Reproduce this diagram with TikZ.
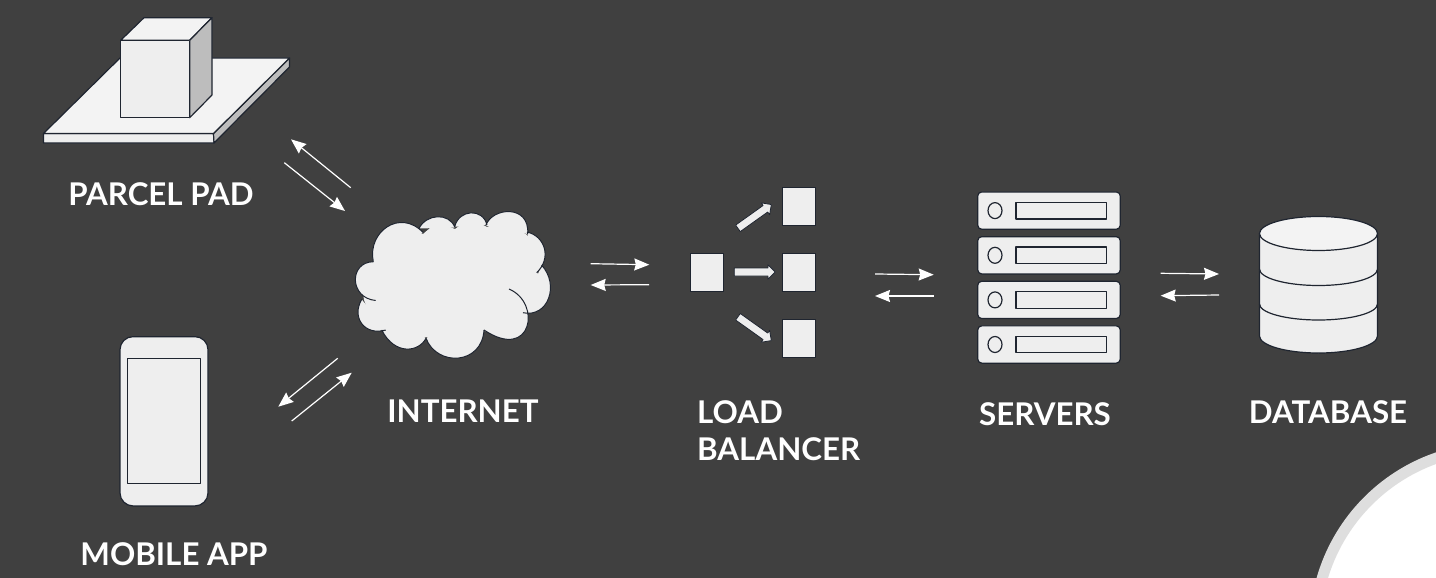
\documentclass[tikz,border=0pt]{standalone}
\usepackage{fontspec}
\setmainfont{Lato}
\usetikzlibrary{arrows.meta,shapes.arrows,shapes.geometric}
\definecolor{bgdark}{HTML}{404040}
\definecolor{edgedark}{HTML}{1F2530}
\definecolor{iconfill}{HTML}{EEEEEE}
\definecolor{iconlight}{HTML}{F3F3F3}
\definecolor{iconside}{HTML}{BDBDBD}
\tikzset{
  icon/.style={draw=edgedark,fill=iconfill,line width=1.2pt,line join=round},
  iconsq/.style={icon,inner sep=0pt,minimum width=33pt,minimum height=38pt},
  flowarrow/.style={draw=white,line width=1.2pt,-{Stealth[length=15pt,width=12pt,inset=1.5pt]}},
  blockarrow/.style={icon,line width=.8pt,single arrow,inner sep=3.6pt,minimum width=14pt,
    single arrow head extend=3.3pt,minimum height=41pt},
  lbl/.style={text=white,font=\fontsize{31.3}{37}\selectfont\bfseries,inner sep=0pt},
}
\begin{document}
\begin{tikzpicture}[x=1pt,y=-1pt]
\useasboundingbox (0,0) rectangle (1436,578);
\fill[bgdark] (0,0) rectangle (1436,578);
% corner
\begin{scope}
\clip (0,0) rectangle (1436,578);
\draw[fill=white,draw=black!13,line width=11pt] (1496,629) circle [radius=181pt];
\end{scope}
% parcel pad
\draw[icon,fill=iconfill] (43.5,133.5) -- (213.5,133.5) -- (214,143) -- (43.5,143) -- cycle;
\draw[icon,fill=iconside] (213.5,133.5) -- (289.5,58) -- (289.5,67) -- (214,143) -- cycle;
\draw[icon,fill=iconlight] (43.5,133.5) -- (120,58) -- (289.5,58) -- (213.5,133.5) -- cycle;
\draw[icon,fill=iconlight] (120.7,40.3) -- (144,17.7) -- (212,17.7) -- (189.7,40.3) -- cycle;
\draw[icon,fill=iconside] (189.7,40.3) -- (212,17.7) -- (212,95) -- (189.7,117.7) -- cycle;
\node[icon,inner sep=0pt,minimum width=69pt,minimum height=77.4pt] (parcelbox) at (155.2,79) {};
\node[lbl] (parcel) at (161,194) {PARCEL PAD};
% mobile app
\node[icon,rounded corners=13pt,inner sep=0pt,minimum width=88pt,minimum height=169.3pt] (phone) at (164,421.3) {};
\node[icon,line width=1pt,inner sep=0pt,minimum width=73.4pt,minimum height=125.4pt] (screen) at (164,421) {};
\node[lbl] (mobile) at (174,554) {MOBILE APP};
% internet
\fill[iconfill] (380,250) -- (400,232) -- (423,234) -- (437,222) -- (455,229) -- (470,218) -- (487,227)
  -- (505,220) -- (527,235) -- (535,245) -- (537,270) -- (540,285) -- (523,313) -- (500,335) -- (484,331)
  -- (455,350) -- (426,337) -- (410,345) -- (383,329) -- (372,322) -- (364,300) -- (362,285) -- (373,263) -- cycle;
\draw[icon,line width=1pt]
  (373.3,261.7) .. controls (367,232) and (400,208) .. (423.3,232.7)
  (419,228.5) .. controls (426,214) and (449,212) .. (455,227.5)
  (454.7,226.7) .. controls (459,209) and (483,208) .. (487,225)
  (485.7,225.7) .. controls (492,207) and (530,204) .. (527.7,234)
  (527,232) .. controls (545,236) and (552,258) .. (536.7,272.7)
  (541.5,265) .. controls (560,285) and (548,318) .. (523,312.7)
  (509,289) .. controls (542,303) and (532,362) .. (484,330)
  (484,330) .. controls (482,365) and (437,367) .. (426,338.3)
  (426,338.3) .. controls (419,352) and (395,356) .. (381.7,330)
  (385.7,330) .. controls (365,336) and (351,318) .. (361.7,299.3)
  (375.7,300.5) .. controls (349,298) and (349,262) .. (373.3,261.7);
\node[lbl] (internet) at (463,411) {INTERNET};
% load balancer
\node[iconsq] (lbin) at (706.8,272.3) {};
\node[iconsq] (lbtop) at (798.8,206.3) {};
\node[iconsq] (lbmid) at (798.8,272.2) {};
\node[iconsq] (lbbot) at (798.8,338.2) {};
\node[blockarrow,rotate=35.5] (pushtop) at (753,217.6) {};
\node[blockarrow] (pushmid) at (752.8,272) {};
\node[blockarrow,rotate=-35.5] (pushbot) at (753,327.5) {};
\node[lbl,align=left,anchor=north west] (balancer) at (697,400.5) {LOAD\\BALANCER};
% servers
\foreach \n/\y in {a/210.6,b/255.3,c/299.9,d/344.5}{
  \node[icon,rounded corners=4pt,inner sep=0pt,minimum width=142.5pt,minimum height=37.3pt] (srv\n) at (1049,\y) {};
  \node[icon,ellipse,inner sep=0pt,minimum width=14pt,minimum height=16pt] (led\n) at (995,\y) {};
  \node[icon,inner sep=0pt,minimum width=90.5pt,minimum height=16.7pt] (slot\n) at (1061.3,\y) {};
}
\node[lbl] (servers) at (1045,414) {SERVERS};
% database
\draw[icon] (1259.5,233.5) -- (1259.5,336) arc [start angle=180,end angle=360,x radius=59pt,y radius=17pt]
  -- (1377.5,233.5);
\draw[icon] (1259.5,269) arc [start angle=180,end angle=360,x radius=59pt,y radius=16.5pt];
\draw[icon,fill=none] (1259.5,304) arc [start angle=180,end angle=360,x radius=59pt,y radius=16pt];
\draw[icon,fill=iconlight] (1318.5,233.5) ellipse [x radius=59pt,y radius=17pt];
\node[lbl] (database) at (1328,412) {DATABASE};
% arrows
\foreach \n/\xa/\ya/\xb/\yb in {
  padin/350.7/187.7/291/139.3, padout/284.3/162.7/345/211,
  appin/337.7/358.3/278.3/406.7, appout/291.7/421/351.7/372.7,
  netout/590.7/263.7/649.3/264.7, netin/649/284.7/590.7/285,
  lbout/875/274/933.7/274.7, lbback/933.7/296/875/296,
  srvout/1160.7/273.3/1219/274, srvback/1219/295/1160.7/295.7}{
  \coordinate (\n s) at (\xa,\ya);
  \coordinate (\n e) at (\xb,\yb);
  \draw[flowarrow] (\n s) -- (\n e);
}
\end{tikzpicture}
\end{document}
